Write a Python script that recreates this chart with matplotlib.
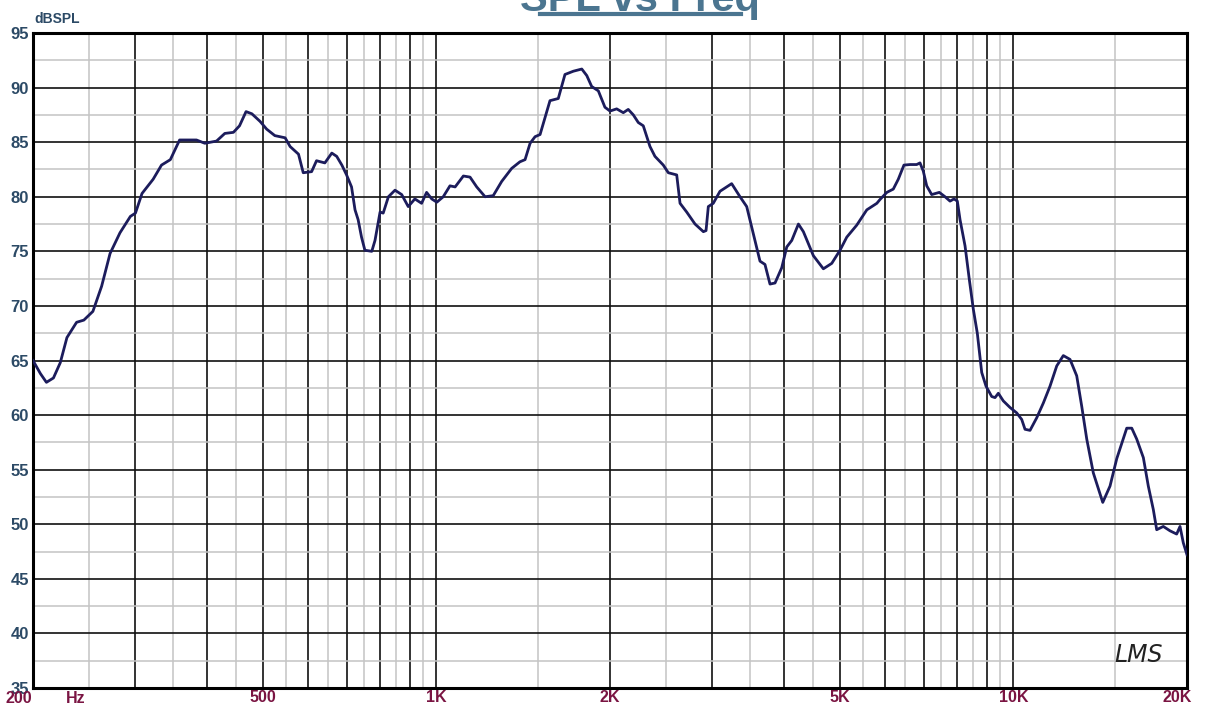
import matplotlib
matplotlib.use("Agg")
import matplotlib.pyplot as plt
from matplotlib.lines import Line2D
from matplotlib.ticker import FixedLocator, NullFormatter

# SPL response (Hz, dB)
freq_hz = [200, 206, 211, 217, 223, 229, 238, 245, 254, 263, 272, 283, 295, 301,
           309, 323, 334, 346, 359, 369, 384, 397, 416, 430, 445, 456, 468, 479,
           495, 508, 525, 547, 558, 577, 588, 608, 620,
           641, 659, 672, 686, 699, 713, 723, 732, 742, 752, 773, 783, 799, 809,
           826, 848, 871, 894, 918, 943, 962, 982, 1002, 1028, 1056, 1078, 1114,
           1144, 1175, 1215, 1255, 1298, 1351, 1396, 1425, 1454, 1483, 1513, 1574,
           1627, 1671, 1728, 1787, 1823, 1859, 1909, 1960,
           2000, 2054, 2109, 2151, 2195, 2239, 2284, 2346, 2393, 2474, 2524, 2610,
           2645, 2716, 2808, 2903, 2934, 2961, 3020, 3102, 3250, 3360, 3451, 3543,
           3639, 3712, 3787, 3864, 3969, 4049, 4131, 4242, 4327, 4503, 4686, 4846,
           5008, 5145, 5354, 5573, 5801,
           5875, 6037, 6194, 6319, 6463, 6622, 6800, 6891, 6982, 7078, 7220, 7443,
           7615, 7768, 7893, 7998, 8085, 8248, 8391, 8525, 8662, 8816, 8968, 9174,
           9296, 9420, 9608, 9868, 10136, 10341, 10478, 10690, 10979, 11272, 11578,
           11892, 12209, 12540, 12879, 13140, 13406, 13762, 14290, 14711, 15109,
           15725, 16043, 16365, 16803, 17138, 17484, 17722, 18194, 18687, 19192,
           19450, 19707, 20000]
spl_db = [65.0, 63.8, 63.0, 63.4, 64.8, 67.1, 68.5, 68.7, 69.5, 71.8, 74.8, 76.7,
          78.2, 78.5, 80.3, 81.6, 82.9, 83.4, 85.2, 85.2, 85.2, 84.9, 85.1, 85.8,
          85.9, 86.5, 87.8, 87.6, 86.9, 86.2, 85.6, 85.4, 84.6, 83.9, 82.2, 82.3,
          83.3,
          83.1, 84.0, 83.7, 82.9, 82.0, 80.9, 78.8, 77.9, 76.3, 75.1, 75.0, 76.0,
          78.6, 78.5, 80.0, 80.6, 80.2, 79.1, 79.8, 79.4, 80.4, 79.8, 79.5, 80.0,
          81.0, 80.9, 81.9, 81.8, 80.9, 80.0, 80.1, 81.4, 82.6, 83.2, 83.4, 84.9,
          85.5, 85.7, 88.8, 89.0, 91.2, 91.5, 91.7, 91.1, 90.1, 89.7, 88.2,
          87.85, 88.05, 87.7, 88.0, 87.5, 86.8, 86.5, 84.6, 83.7, 82.9, 82.2, 82.0,
          79.4, 78.6, 77.5, 76.8, 76.9, 79.1, 79.4, 80.5, 81.2, 80.0, 79.1, 76.6,
          74.1, 73.8, 72.0, 72.1, 73.5, 75.4, 76.0, 77.5, 76.8, 74.6, 73.4, 73.9,
          75.1, 76.3, 77.4, 78.8, 79.4,
          79.75, 80.4, 80.7, 81.6, 82.9, 82.95, 82.95, 83.1, 82.35, 81.0, 80.2, 80.4,
          80.0, 79.6, 79.8, 79.6, 77.9, 75.5, 72.4, 69.7, 67.5, 63.9, 62.65, 61.7,
          61.6, 62.0, 61.3, 60.7, 60.2, 59.6, 58.7, 58.6, 59.75, 61.1, 62.65,
          64.5, 65.45, 65.1, 63.6, 60.8, 57.8, 54.7, 52.0, 53.5, 56.0,
          58.8, 58.8, 57.8, 56.1, 53.5, 51.35, 49.5, 49.8, 49.4, 49.1,
          49.8, 48.3, 47.2]

major_x = [200, 300, 400, 500, 600, 700, 800, 900, 1000, 2000, 3000, 4000, 5000,
           6000, 7000, 8000, 9000, 10000, 20000]
minor_x = [250, 350, 450, 550, 650, 750, 850, 950, 1500, 2500, 3500, 4500, 5500,
           6500, 7500, 8500, 9500, 15000]
x_ticks = [500, 1000, 2000, 5000, 10000, 20000]
x_labels = ["500", "1K", "2K", "5K", "10K", "20K"]
y_ticks = [35, 40, 45, 50, 55, 60, 65, 70, 75, 80, 85, 90, 95]

plt.rcParams['font.family'] = ['Liberation Sans', 'DejaVu Sans']

fig = plt.figure(figsize=(12.09, 7.08), dpi=100)
ax = fig.add_axes([33 / 1209, 1 - 688 / 708, 1154 / 1209, 655 / 708])
ax.set_xscale('log')
ax.set_xlim(200, 20000)
ax.set_ylim(35, 95)

# grid: black at majors, light gray in between
ax.xaxis.set_major_locator(FixedLocator(major_x))
ax.xaxis.set_minor_locator(FixedLocator(minor_x))
ax.yaxis.set_major_locator(FixedLocator(y_ticks))
ax.yaxis.set_minor_locator(FixedLocator([v + 2.5 for v in y_ticks[:-1]]))
ax.grid(which='minor', color='#c4c4c4', lw=1.1)
ax.grid(which='major', color='#111111', lw=1.2)
ax.set_axisbelow(True)
ax.tick_params(which='both', length=0)
ax.xaxis.set_major_formatter(NullFormatter())
ax.xaxis.set_minor_formatter(NullFormatter())
ax.set_yticklabels([str(v) for v in y_ticks], fontsize=12, fontweight='bold',
                   color='#2c4a66')
ax.tick_params(axis='y', pad=3)
for s in ax.spines.values():
    s.set_linewidth(2.2)
    s.set_color('black')

ax.plot(freq_hz, spl_db, color='#1c1c5c', lw=2.0, zorder=5)

# x tick labels drawn by hand (maroon, under the frame)
lab_col = '#7a1442'
for f, t in zip(x_ticks, x_labels):
    ha = 'right' if t == "20K" else 'center'
    xx = f * 1.02 if t == "20K" else f
    ax.text(xx, -0.003, t, transform=ax.get_xaxis_transform(), ha=ha, va='top',
            fontsize=11.5, fontweight='bold', color=lab_col, clip_on=False)
fig.text(6 / 1209, 1 - 691 / 708, "200", ha='left', va='top', fontsize=11.5,
         fontweight='bold', color=lab_col)
fig.text(66 / 1209, 1 - 691 / 708, "Hz", ha='left', va='top', fontsize=11.5,
         fontweight='bold', color=lab_col)

fig.text(34 / 1209, 1 - 23 / 708, "dBSPL", ha='left', va='baseline', fontsize=10,
         fontweight='bold', color='#2c4a66')

# title sits partly above the canvas
fig.text(640 / 1209, 1 - 11 / 708, "SPL vs Freq", ha='center', va='baseline',
         fontsize=30, fontweight='bold', color='#4b7590')
fig.add_artist(Line2D([540 / 1209, 741 / 1209], [1 - 14 / 708, 1 - 14 / 708],
                      transform=fig.transFigure, color='#4b7590', lw=3))

ax.text(0.958, 0.05, "LMS", transform=ax.transAxes, ha='center', va='center',
        fontsize=17, style='italic', color='#222222',
        family=['DejaVu Sans'])

fig.savefig("out.png", dpi=100)
